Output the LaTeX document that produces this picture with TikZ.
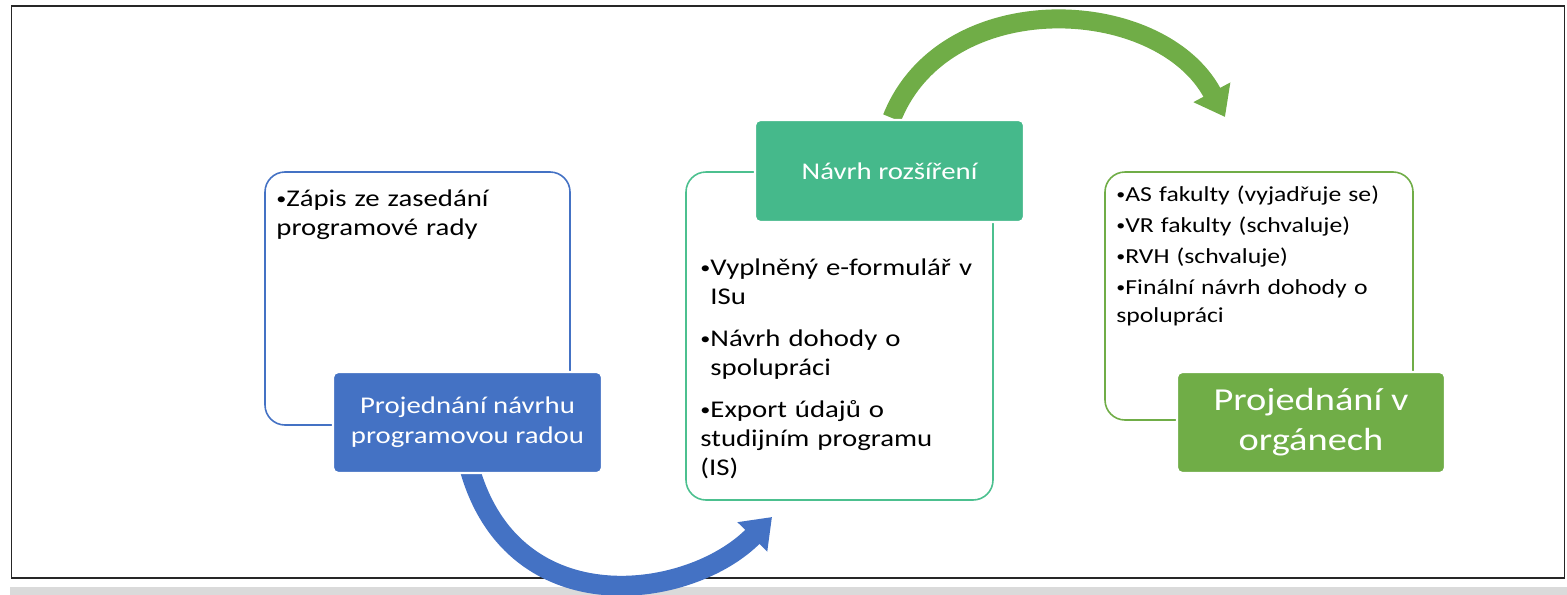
\documentclass[tikz,border=0pt]{standalone}
\usepackage{fontspec}
\setmainfont{Carlito}[FakeStretch=1.2]
\usetikzlibrary{arrows.meta}
\definecolor{cblue}{HTML}{4472C4}
\definecolor{cteal}{HTML}{45B98B}
\definecolor{ctealline}{HTML}{4CC08F}
\definecolor{cgreen}{HTML}{70AD47}
\definecolor{cband}{HTML}{DADADA}
\newcommand\mybul{\raisebox{0.09em}{\scalebox{0.7}{•}}}
\newcommand\bitem[1]{\par\noindent\setbox0\hbox{\mybul}\hangindent=\wd0\hangafter=1\box0#1}
\tikzset{
  obox/.style={rectangle, rounded corners=10pt, line width=0.8pt, inner sep=0pt},
  fbox/.style={rectangle, rounded corners=2.5pt, draw=white, line width=1.2pt, text=white, align=center, inner sep=0pt},
  listtxt/.style={anchor=north west, inner sep=0pt, text width=200pt, font=\fontsize{12}{14.5}\selectfont, text=black},
  bigarrow/.style={line width=10pt},
}
\begin{document}
\begin{tikzpicture}[x=0.5pt, y=-0.5pt]
\useasboundingbox (0,0) rectangle (1567,594);
% frame and band
\node[draw=black!85, line width=0.9pt, minimum width=776.5pt, minimum height=286pt, inner sep=0pt] (frame) at (788,292) {};
\node[fill=cband, minimum width=778.5pt, minimum height=4.5pt, inner sep=0pt] (band) at (788.5,591.5) {};
% boxes (outlines)
\node[obox, draw=cblue, minimum width=152.5pt, minimum height=126.5pt] (b1) at (417.5,298.5) {};
\node[obox, draw=ctealline, minimum width=153.5pt, minimum height=164pt] (b2) at (839.5,336) {};
\node[obox, draw=cgreen, minimum width=154pt, minimum height=124pt] (b3) at (1259,296) {};
% arrow anchor coordinates
\coordinate (a1s) at (470,470);
\coordinate (a1e) at (772,517);
\coordinate (a2s) at (892,118);
\coordinate (a2e) at (1225,117);
% arrows
\draw[bigarrow, cblue, -{Triangle[length=14pt, width=20pt]}] (a1s) .. controls (515,625) and (690,600) .. (a1e);
\draw[bigarrow, cgreen, line width=9.5pt, -{Triangle[length=14pt, width=20pt]}] (a2s) .. controls (945,-15) and (1160,-5) .. (a2e);
% filled boxes
\node[fbox, fill=cblue, minimum width=134.5pt, minimum height=50.5pt, font=\fontsize{12}{15}\selectfont] (f1) at (467.5,422.5) {Projednání návrhu\\programovou radou};
\node[fbox, fill=cteal, minimum width=134.5pt, minimum height=51pt, font=\fontsize{12}{15}\selectfont] (f2) at (889.5,171) {Návrh rozšíření};
\node[fbox, fill=cgreen, minimum width=134pt, minimum height=50.5pt, font=\fontsize{16}{20}\selectfont] (f3) at (1311,422.5) {Projednání v\\orgánech};
% lists
\node[listtxt] (l1) at (276,177) {\bitem{Zápis ze zasedání\newline programové rady}};
\node[listtxt] (l2) at (700,233) {\setlength{\parskip}{6.5pt}\bitem{Vyplněný e-formulář v\newline ISu}\bitem{Návrh dohody o\newline spolupráci}\bitem{Export údajů o\newline studijním programu\newline (IS)}};
\node[listtxt, font=\fontsize{10.7}{14}\selectfont] (l3) at (1116,170) {\setlength{\parskip}{1.5pt}\bitem{AS fakulty (vyjadřuje se)}\bitem{VR fakulty (schvaluje)}\bitem{RVH (schvaluje)}\bitem{Finální návrh dohody o\newline spolupráci}};
\end{tikzpicture}
\end{document}
